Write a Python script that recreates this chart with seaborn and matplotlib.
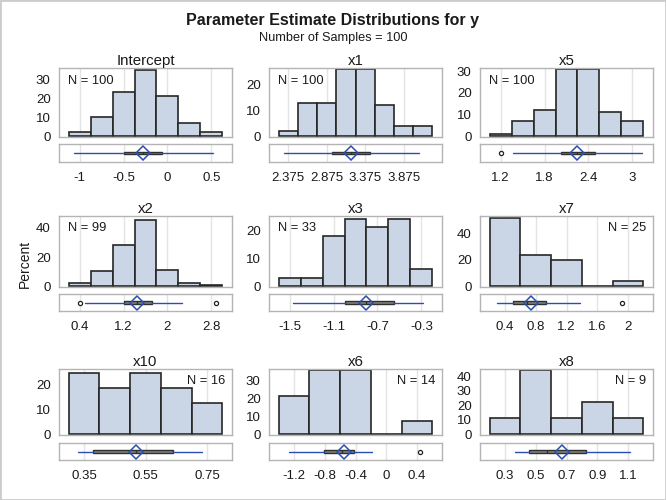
import numpy as np
import pandas as pd
import matplotlib
matplotlib.use("Agg")
import matplotlib.pyplot as plt
import seaborn as sns

# --- data ---
names = ["Intercept", "x1", "x5", "x2", "x3", "x7", "x10", "x6", "x8"]
n_obs = [100, 100, 100, 99, 33, 25, 16, 14, 9]

# bin midpoints and percent per bin
mid_intercept = [-1.0, -0.75, -0.5, -0.25, 0.0, 0.25, 0.5]
pct_intercept = [2, 10, 23, 35, 21, 7, 2]
mid_x1 = [2.375, 2.625, 2.875, 3.125, 3.375, 3.625, 3.875, 4.125]
pct_x1 = [2, 13, 13, 26, 26, 12, 4, 4]
mid_x5 = [1.2, 1.5, 1.8, 2.1, 2.4, 2.7, 3.0]
pct_x5 = [1, 7, 12, 31, 31, 11, 7]
mid_x2 = [0.4, 0.8, 1.2, 1.6, 2.0, 2.4, 2.8]
pct_x2 = [2.02, 10.10, 28.28, 45.45, 11.11, 2.02, 1.01]
mid_x3 = [-1.5, -1.3, -1.1, -0.9, -0.7, -0.5, -0.3]
pct_x3 = [3.03, 3.03, 18.18, 24.24, 21.21, 24.24, 6.06]
mid_x7 = [0.4, 0.8, 1.2, 1.6, 2.0]
pct_x7 = [52, 24, 20, 0, 4]
mid_x10 = [0.35, 0.45, 0.55, 0.65, 0.75]
pct_x10 = [25, 18.75, 25, 18.75, 12.5]
mid_x6 = [-1.2, -0.8, -0.4, 0.0, 0.4]
pct_x6 = [21.43, 35.71, 35.71, 0, 7.14]
mid_x8 = [0.3, 0.5, 0.7, 0.9, 1.1]
pct_x8 = [11.11, 44.44, 11.11, 22.22, 11.11]

mids = [mid_intercept, mid_x1, mid_x5, mid_x2, mid_x3, mid_x7, mid_x10, mid_x6, mid_x8]
pcts = [pct_intercept, pct_x1, pct_x5, pct_x2, pct_x3, pct_x7, pct_x10, pct_x6, pct_x8]

# box plot summaries: whisker low, q1, median, q3, whisker high, mean, outliers
whis_lo = [-1.06, 2.32, 1.37, 0.49, -1.47, 0.29, 0.33, -1.27, 0.365]
q1 = [-0.49, 2.95, 2.03, 1.21, -0.995, 0.50, 0.38, -0.815, 0.457]
med = [-0.28, 3.19, 2.25, 1.45, -0.80, 0.68, 0.52, -0.58, 0.57]
q3 = [-0.06, 3.44, 2.49, 1.72, -0.55, 0.93, 0.64, -0.42, 0.83]
whis_hi = [0.515, 4.08, 3.13, 2.27, -0.285, 1.37, 0.735, -0.19, 1.11]
means = [-0.28, 3.19, 2.24, 1.44, -0.805, 0.74, 0.52, -0.546, 0.673]
outliers = [[], [], [1.21], [0.41, 2.88], [], [1.92], [], [0.445], []]

xticks = [[-1, -0.5, 0, 0.5], [2.375, 2.875, 3.375, 3.875], [1.2, 1.8, 2.4, 3],
          [0.4, 1.2, 2, 2.8], [-1.5, -1.1, -0.7, -0.3], [0.4, 0.8, 1.2, 1.6, 2],
          [0.35, 0.55, 0.75], [-1.2, -0.8, -0.4, 0, 0.4], [0.3, 0.5, 0.7, 0.9, 1.1]]
ytick_step = [10, 10, 10, 20, 10, 20, 10, 10, 10]
ymax = [35.8, 26.4, 31.4, 48.2, 25.3, 53.3, 26.5, 36.2, 45.0]
n_right = [False, False, False, False, False, True, True, True, True]

# --- layout (pixels of a 666x500 figure) ---
W, H = 666, 500
col_left = [59, 269, 480]
col_w = 173
rows = [(68, 137, 144, 162), (216, 287, 294, 311), (369, 435, 443, 460)]

sns.set_style("white")
plt.rcParams["font.family"] = ["Liberation Sans", "DejaVu Sans"]

bar_fill = "#cad5e5"
bar_edge = "#262626"
frame_col = "#b4b4b4"
grid_col = "#e4e4e4"
blue = "#2a4fb0"
txt = "#1a1a1a"

fig = plt.figure(figsize=(W / 100, H / 100), dpi=100)


def rect(x0, y0, x1, y1):
    return [x0 / W, 1 - y1 / H, (x1 - x0) / W, (y1 - y0) / H]


for i, name in enumerate(names):
    r, c = divmod(i, 3)
    htop, hbot, btop, bbot = rows[r]
    x0 = col_left[c]
    ax = fig.add_axes(rect(x0, htop, x0 + col_w, hbot))
    axb = fig.add_axes(rect(x0, btop, x0 + col_w, bbot))

    m = np.array(mids[i], dtype=float)
    w = m[1] - m[0]
    edges = list(np.append(m - w / 2, m[-1] + w / 2))
    df = pd.DataFrame({"mid": m, "pct": pcts[i]})
    sns.histplot(data=df, x="mid", weights="pct", bins=edges, ax=ax,
                 color=bar_fill, edgecolor=bar_edge, linewidth=1.2, alpha=1)

    span = edges[-1] - edges[0]
    xlim = (edges[0] - 0.0625 * span, edges[-1] + 0.0625 * span)
    for a in (ax, axb):
        a.set_xlim(*xlim)
        a.set_xticks(xticks[i])
        a.grid(axis="x", color=grid_col, linewidth=1)
        a.set_axisbelow(True)
        for s in a.spines.values():
            s.set_color(frame_col)
            s.set_linewidth(1)
        a.set_xlabel("")
        a.set_ylabel("")

    ax.set_ylim(-0.012 * ymax[i], ymax[i])
    ax.set_yticks(np.arange(0, ymax[i], ytick_step[i]))
    ax.tick_params(axis="x", length=0, labelbottom=False)
    ax.tick_params(axis="y", length=4, width=1, color=frame_col, labelsize=9.5,
                   labelcolor=txt, pad=2)
    ax.set_title(name, fontsize=10.8, color=txt, pad=2)

    hpx = hbot - htop
    ny = 1 - 12.5 / hpx
    if n_right[i]:
        ax.text(1 - 7 / col_w, ny, f"N = {n_obs[i]}", transform=ax.transAxes,
                ha="right", va="center", fontsize=9.3, color=txt)
    else:
        ax.text(9 / col_w, ny, f"N = {n_obs[i]}", transform=ax.transAxes,
                ha="left", va="center", fontsize=9.3, color=txt)

    stats = [{"whislo": whis_lo[i], "q1": q1[i], "med": med[i], "q3": q3[i],
              "whishi": whis_hi[i], "mean": means[i], "fliers": outliers[i]}]
    axb.bxp(stats, positions=[0], widths=0.3, orientation="horizontal",
            showmeans=True, showcaps=False, patch_artist=True,
            boxprops=dict(facecolor="#808080", edgecolor="#303030", linewidth=1),
            medianprops=dict(color="#303030", linewidth=1),
            whiskerprops=dict(color=blue, linewidth=1),
            meanprops=dict(marker="D", markersize=7.5, markerfacecolor="none",
                           markeredgecolor=blue, markeredgewidth=1.1),
            flierprops=dict(marker="o", markersize=3, markerfacecolor="white",
                            markeredgecolor="#222222", markeredgewidth=0.9))
    axb.set_ylim(-1, 1)
    axb.set_yticks([])
    axb.set_xticks(xticks[i])
    axb.set_xticklabels([f"{t:g}" for t in xticks[i]])
    axb.tick_params(axis="x", length=4, width=1, color=frame_col, labelsize=9.5,
                    labelcolor=txt, pad=3)

fig.text(0.5, 1 - 21 / H, "Parameter Estimate Distributions for y", ha="center",
         va="center", fontsize=11.5, fontweight="bold", color=txt)
fig.text(0.5, 1 - 38 / H, "Number of Samples = 100", ha="center", va="center",
         fontsize=9.2, color=txt)
fig.text(25 / W, 1 - 264 / H, "Percent", rotation=90, ha="center", va="center",
         fontsize=10, color=txt)

fig.add_artist(plt.Rectangle((0, 0), 1, 1, transform=fig.transFigure, fill=False,
                             edgecolor="#cccccc", linewidth=2))

fig.savefig("out.png", dpi=100)
